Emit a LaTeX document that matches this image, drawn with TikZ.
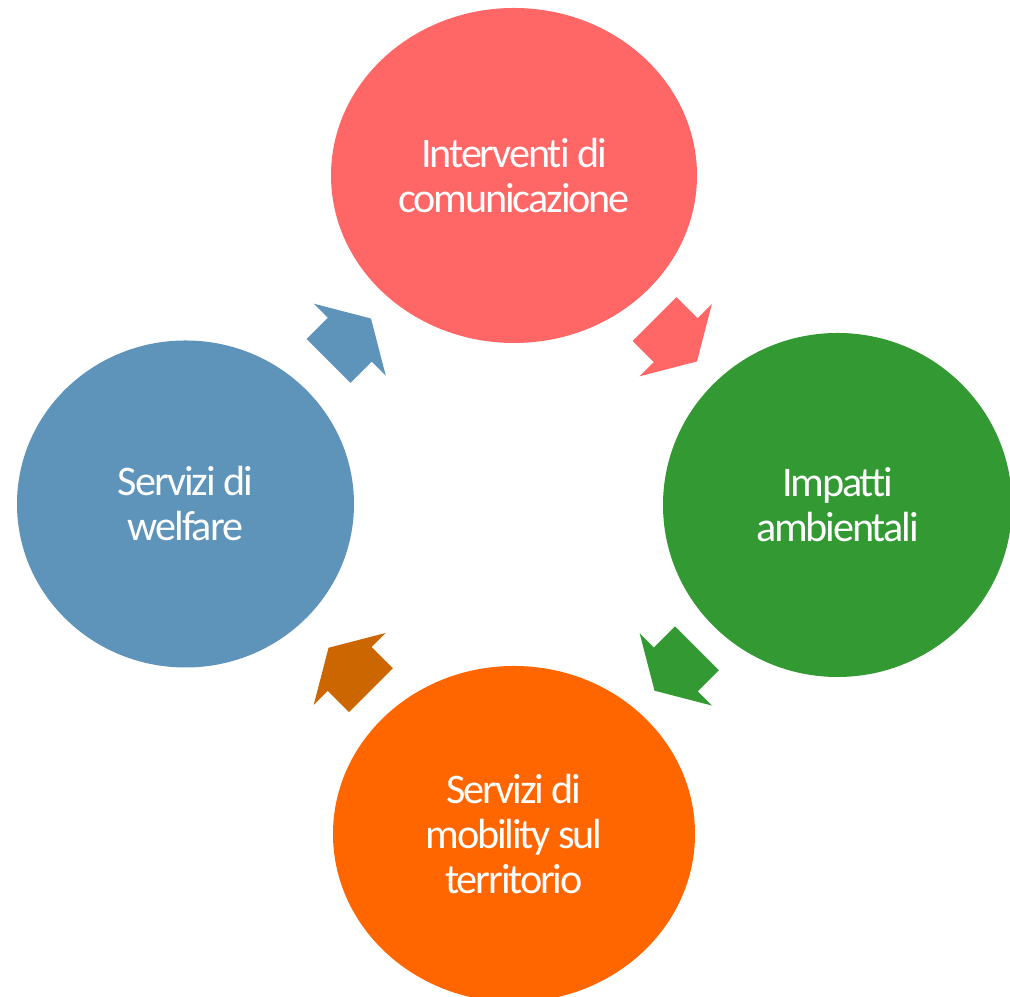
\documentclass[tikz,border=0pt]{standalone}
\usepackage{fontspec}
\setmainfont{Carlito}[Ligatures=NoCommon, LetterSpace=-5]
\usepackage{tikz}
\usetikzlibrary{shapes.geometric,calc}

\definecolor{cycred}{HTML}{FF6666}
\definecolor{cycgreen}{HTML}{339933}
\definecolor{cycorange}{HTML}{FF6600}
\definecolor{cycbrown}{HTML}{CC6600}
\definecolor{cycblue}{HTML}{5E93BA}

\tikzset{
    bubble/.style={ellipse, inner sep=0pt, text=white, align=center,
        font=\fontsize{12}{12.8}\selectfont},
    blockarrow/.pic={
        \fill (-0.30,0.31) -- (0,0.31) -- (0,0.51) -- (0.30,0)
            -- (0,-0.51) -- (0,-0.31) -- (-0.30,-0.31) -- cycle;
    }
}

\begin{document}
\begin{tikzpicture}
    \useasboundingbox (0,0) rectangle (10.10,9.97);

    % Bubbles
    \node[bubble, fill=cycred, minimum width=3.66cm, minimum height=3.35cm]
        (interventi) at (5.14,8.215) {Interventi di\\comunicazione};
    \node[bubble, fill=cycgreen, minimum width=3.49cm, minimum height=3.44cm]
        (impatti) at (8.375,4.92) {Impatti\\ambientali};
    \node[bubble, fill=cycorange, minimum width=3.62cm, minimum height=3.36cm]
        (mobility) at (5.14,1.63) {Servizi di\\mobility sul\\territorio};
    \node[bubble, fill=cycblue, minimum width=3.37cm, minimum height=3.27cm]
        (welfare) at (1.855,4.93) {Servizi di\\welfare};

    % Arrows between bubbles
    \pic[cycred, rotate=-45] at ($(interventi)!0.5!(impatti)$) {blockarrow};
    \pic[cycgreen, rotate=-135] at ($(impatti)!0.5!(mobility)$) {blockarrow};
    \pic[cycbrown, rotate=135] at ($(mobility)!0.5!(welfare)$) {blockarrow};
    \pic[cycblue, rotate=45] at ($(welfare)!0.5!(interventi)$) {blockarrow};
\end{tikzpicture}
\end{document}
